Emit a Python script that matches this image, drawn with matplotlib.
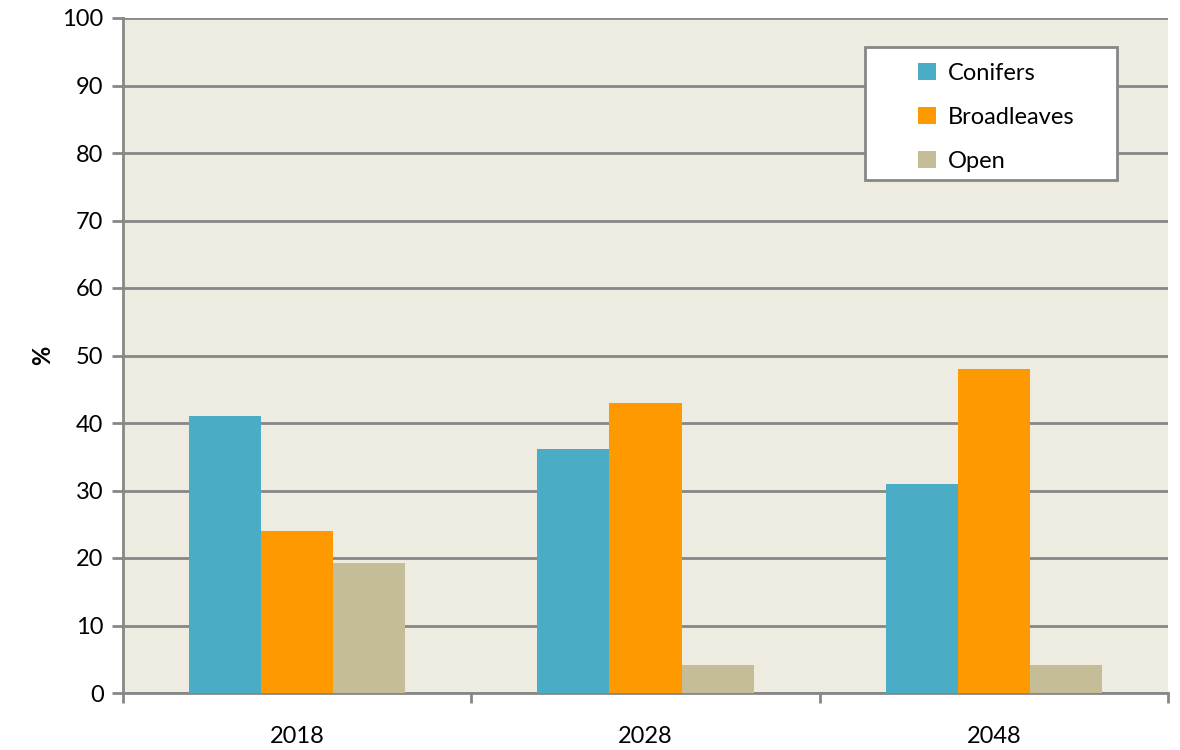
import numpy as np
import matplotlib.pyplot as plt
from matplotlib.patches import Rectangle

plt.rcParams['font.family'] = ['Lato', 'DejaVu Sans']

years = ['2018', '2028', '2048']
series = ['Conifers', 'Broadleaves', 'Open']
conifers = [41, 36.2, 31]
broadleaves = [24, 43, 48]
open_land = [19.2, 4.2, 4.2]
colors = ['#4BACC6', '#FF9900', '#C4BD97']

grid_col = '#878787'

fig = plt.figure(figsize=(11.8, 7.5), dpi=100)
ax = fig.add_axes([0.1042, 0.076, 0.8856, 0.9])
ax.set_facecolor('#EEEBE0')

x = np.arange(len(years))
w = 0.207
for i, (vals, name) in enumerate(zip([conifers, broadleaves, open_land], series)):
    ax.bar(x + (i - 1) * w, vals, width=w, color=colors[i], label=name, zorder=3)

ax.set_xlim(-0.5, len(years) - 0.5)
ax.set_ylim(0, 100)
ax.set_yticks(np.arange(0, 101, 10))
ax.yaxis.grid(True, color=grid_col, linewidth=2, zorder=0)
ax.set_xticks(x)
ax.set_xticklabels(years)
ax.set_xticks(np.arange(-0.5, len(years), 1), minor=True)
ax.tick_params(axis='x', which='major', length=0, pad=24, labelsize=17)
ax.tick_params(axis='x', which='minor', length=7, width=2, color=grid_col)
ax.tick_params(axis='y', length=8, width=2, color=grid_col, labelsize=17, pad=6)

for s in ['top', 'right']:
    ax.spines[s].set_visible(False)
for s in ['left', 'bottom']:
    ax.spines[s].set_color(grid_col)
    ax.spines[s].set_linewidth(2)

ax.set_ylabel('%', fontsize=17, fontweight='bold', labelpad=6)

# legend frame drawn separately so the box is as wide as the original
box = Rectangle((0.710, 0.760), 0.241, 0.197, transform=ax.transAxes,
                facecolor='white', edgecolor=grid_col, linewidth=2, zorder=5)
ax.add_patch(box)
leg = ax.legend(loc='upper left', bbox_to_anchor=(0.752, 0.948), fontsize=17,
                frameon=False, handlelength=0.75, handleheight=0.75,
                handletextpad=0.5, labelspacing=0.98, borderpad=0.4,
                borderaxespad=0)
leg.set_zorder(6)

fig.savefig('out.png', dpi=100)
